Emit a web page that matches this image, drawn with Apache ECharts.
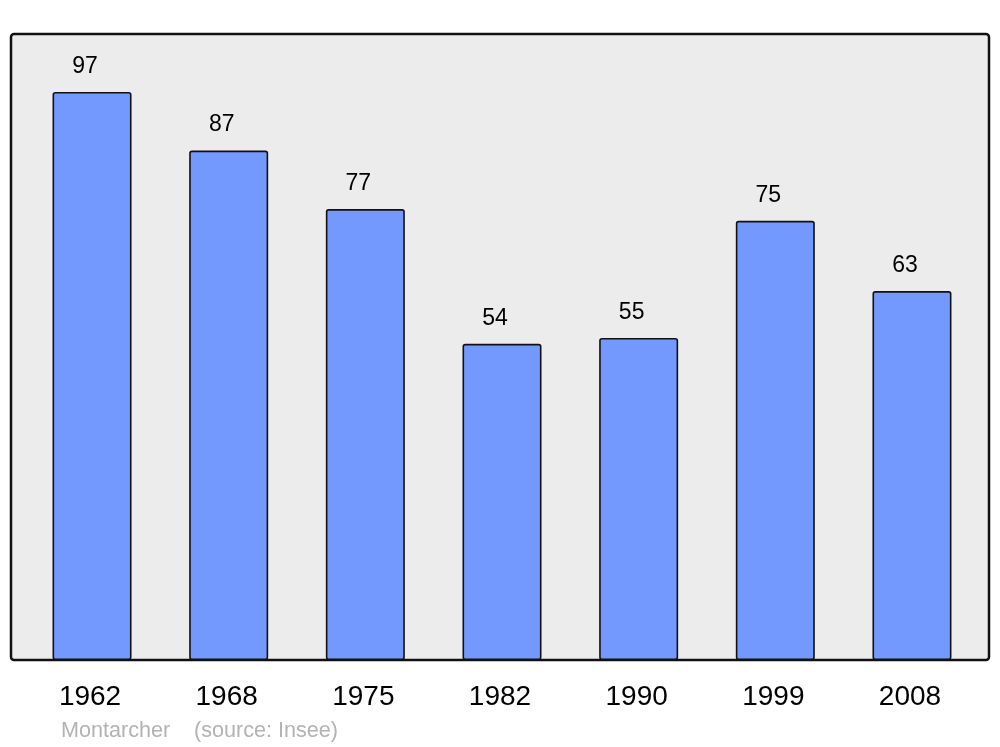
<!DOCTYPE html>
<html>
<head>
<meta charset="utf-8">
<script src="https://cdn.jsdelivr.net/npm/echarts@6/dist/echarts.min.js"></script>
<style>
  html, body { margin: 0; padding: 0; background: #fff; }
  #chart { width: 1000px; height: 747px; }
</style>
</head>
<body>
<div id="chart"></div>
<script>
  // données population
  var years = ['1962', '1968', '1975', '1982', '1990', '1999', '2008'];
  var population = [97, 87, 77, 54, 55, 75, 63];
  var yMax = 106.9;

  var chart = echarts.init(document.getElementById('chart'));

  var footStyle = { color: '#b3b3b3', fontSize: 21.6, fontWeight: 'normal' };

  chart.setOption({
    animation: false,
    textStyle: { fontFamily: 'Liberation Sans, Arial, sans-serif' },
    title: [
      { text: 'Montarcher', left: 56, top: 715, textStyle: footStyle },
      { text: '(source: Insee)', left: 189, top: 715, textStyle: footStyle }
    ],
    // cadre gris
    graphic: [{
      type: 'rect',
      z: -10,
      shape: { x: 11, y: 34, width: 978, height: 626, r: 3 },
      style: { fill: '#ececec', stroke: '#111', lineWidth: 2.5 }
    }],
    grid: { left: 23.7, right: 19.7, top: 34, bottom: 87 },
    xAxis: {
      type: 'category',
      data: years,
      axisLine: { show: false },
      axisTick: { show: false },
      axisLabel: { fontSize: 28, color: '#000', margin: 23, padding: [0, 4, 0, 0] }
    },
    yAxis: {
      type: 'value',
      min: 0,
      max: yMax,
      show: false
    },
    series: [{
      type: 'bar',
      data: population,
      barWidth: 79,
      itemStyle: {
        color: '#7399ff',
        borderColor: '#111',
        borderWidth: 1.6,
        borderRadius: 2
      },
      label: {
        show: true,
        position: 'top',
        distance: 14,
        offset: [-7, 0],
        fontSize: 23,
        color: '#000'
      }
    }]
  });
</script>
</body>
</html>
